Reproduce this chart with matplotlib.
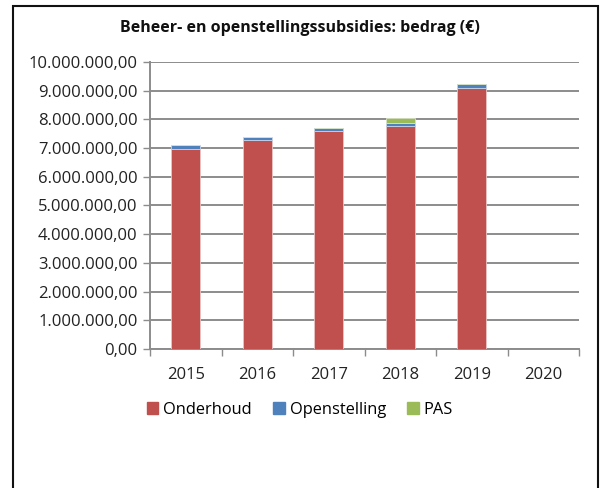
import numpy as np
from matplotlib import pyplot as plt
from matplotlib.patches import Rectangle, Patch
from matplotlib.ticker import FuncFormatter

plt.rcParams['font.family'] = ['Open Sans', 'DejaVu Sans']

years = ['2015', '2016', '2017', '2018', '2019', '2020']
onderhoud = [6980000, 7290000, 7580000, 7780000, 9110000, 0]
openstelling = [120000, 110000, 110000, 110000, 120000, 0]
pas = [0, 0, 0, 170000, 0, 0]

red = '#C0504D'
blue = '#4F81BD'
green = '#9BBB59'
grid = '#8C8C8C'

fig = plt.figure(figsize=(6, 4.88), dpi=100)
ax = fig.add_axes([0.25, 0.285, 0.715, 0.588])

x = np.arange(len(years))
ond = np.array(onderhoud)
ops = np.array(openstelling)
ps = np.array(pas)
w = 0.4
ax.bar(x, ond, w, color=red, edgecolor='#e8c4c3', linewidth=0.6, zorder=3)
ax.bar(x, ops, w, bottom=ond, color=blue, edgecolor='#c4d3e8', linewidth=0.6, zorder=3)
ax.bar(x, ps, w, bottom=ond + ops, color=green, edgecolor='#d8e4c4', linewidth=0.6, zorder=3)

ax.set_xlim(-0.5, len(years) - 0.5)
ax.set_ylim(0, 10000000)
ax.set_yticks(np.arange(0, 10000001, 1000000))

def fmt(v, pos):
    s = '{:,.2f}'.format(v)
    return s.replace(',', 'X').replace('.', ',').replace('X', '.')

ax.yaxis.set_major_formatter(FuncFormatter(fmt))
ax.yaxis.grid(True, color=grid, linewidth=1.4, zorder=0)
ax.set_axisbelow(True)

ax.set_xticks(x)
ax.set_xticklabels(years)
ax.set_xticks(np.arange(-0.5, len(years)), minor=True)
ax.tick_params(axis='x', which='major', length=0, pad=13, labelsize=12, colors='#222222')
ax.tick_params(axis='x', which='minor', length=5, color=grid, width=1)
ax.tick_params(axis='y', length=5, color=grid, width=1, labelsize=12, labelcolor='#222222', pad=4)

for s in ['top', 'right']:
    ax.spines[s].set_visible(False)
ax.spines['left'].set_color(grid)
ax.spines['left'].set_linewidth(1.4)
ax.spines['bottom'].set_color(grid)
ax.spines['bottom'].set_linewidth(1.4)

fig.text(0.5, 0.942, 'Beheer- en openstellingssubsidies: bedrag (€)', ha='center', va='center',
         fontsize=11.5, fontweight='bold', color='#111111')

handles = [Patch(color=red, label='Onderhoud'), Patch(color=blue, label='Openstelling'),
           Patch(color=green, label='PAS')]
fig.legend(handles=handles, loc='center', bbox_to_anchor=(0.5, 0.16), ncol=3, frameon=False,
           fontsize=11.8, handlelength=0.7, handleheight=0.7, handletextpad=0.3, columnspacing=1.3)

fig.patches.append(Rectangle((13 / 600, -0.01), 585 / 600, 1 - 6 / 488 + 0.01,
                             transform=fig.transFigure, fill=False, edgecolor='#111111',
                             linewidth=1.5))

fig.savefig('out.png', dpi=100)
